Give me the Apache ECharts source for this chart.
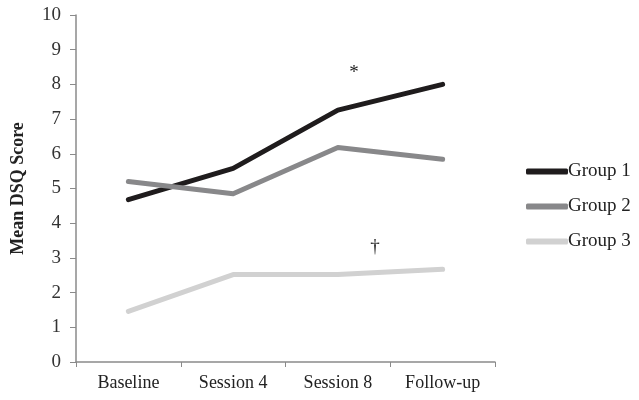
<!DOCTYPE html>
<html><head><meta charset="utf-8">
<script src="https://cdn.jsdelivr.net/npm/echarts@6/dist/echarts.min.js"></script>
<style>html,body{margin:0;padding:0;background:#fff}#c{width:639px;height:400px}</style>
</head><body><div id="c"></div>
<script>
const categories = ['Baseline', 'Session 4', 'Session 8', 'Follow-up'];
const group1 = [4.68, 5.58, 7.26, 8.0];
const group2 = [5.2, 4.85, 6.18, 5.84];
const group3 = [1.46, 2.52, 2.52, 2.67];
const seriesNames = ['Group 1', 'Group 2', 'Group 3'];
const yTicks = [0, 10, 1];
const FONT = '"Liberation Serif", "DejaVu Serif", serif';
const chart = echarts.init(document.getElementById('c'));
function mk(name, data, color, mark) {
  const s = {
    name, type: 'line', data, symbol: 'none', showSymbol: false,
    lineStyle: { color, width: 5, cap: 'round', join: 'round' },
    itemStyle: { color }, animation: false
  };
  if (mark) {
    s.markPoint = { symbol: 'circle', symbolSize: 0, silent: true,
      data: [{ coord: mark.coord, label: { show: true, formatter: mark.text, color: '#222',
        fontFamily: FONT, fontSize: mark.size, offset: mark.offset, position: 'inside' } }] };
  }
  return s;
}
chart.setOption({
  animation: false,
  textStyle: { fontFamily: FONT },
  grid: { left: 76, right: 144, top: 15, bottom: 38, containLabel: false, outerBoundsMode: 'none' },
  legend: {
    orient: 'vertical', left: 521, top: 157, itemWidth: 42, itemHeight: 6, itemGap: 16,
    icon: 'roundRect', textStyle: { fontFamily: FONT, fontSize: 19, color: '#222', padding: [0,0,0,-5] },
    data: seriesNames
  },
  xAxis: {
    type: 'category', data: categories, boundaryGap: true,
    axisLine: { lineStyle: { color: '#8a8a8a', width: 1.5 } },
    axisTick: { show: true, length: 5, lineStyle: { color: '#8a8a8a' } },
    axisLabel: { color: '#222', fontSize: 18, fontFamily: FONT, margin: 12, interval: 0, hideOverlap: false }
  },
  yAxis: {
    type: 'value', min: yTicks[0], max: yTicks[1], interval: yTicks[2],
    name: 'Mean DSQ Score', nameLocation: 'middle', nameGap: 49, nameRotate: 90,
    nameTextStyle: { fontFamily: FONT, fontSize: 18, fontWeight: 'bold', color: '#222' },
    splitLine: { show: false },
    axisLine: { show: true, lineStyle: { color: '#8a8a8a', width: 1.5 } },
    axisTick: { show: true, length: 6, lineStyle: { color: '#8a8a8a' } },
    axisLabel: { color: '#333', fontSize: 19, fontFamily: FONT, margin: 15 }
  },
  series: [
    mk(seriesNames[0], group1, '#1f1c1d', { coord: ['Session 8', 8.4], text: '*', size: 19, offset: [16, 2] }),
    mk(seriesNames[1], group2, '#88888a'),
    mk(seriesNames[2], group3, '#d1d1d1', { coord: ['Session 8', 3.3], text: '†', size: 19, offset: [37, 0] })
  ]
});
</script></body></html>
